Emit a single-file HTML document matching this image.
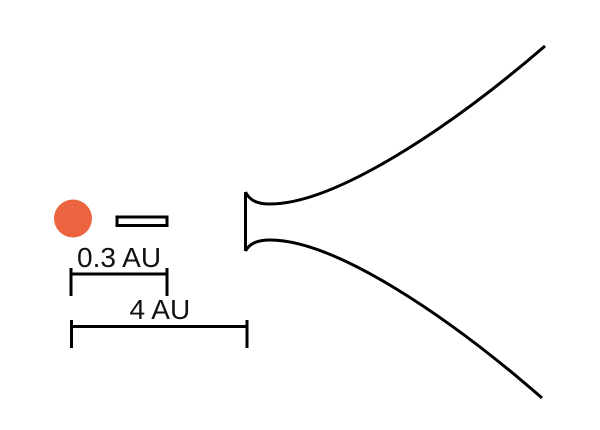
<!DOCTYPE html>
<html>
<head>
<meta charset="utf-8">
<style>
html,body{margin:0;padding:0;background:#fff;width:600px;height:430px;overflow:hidden}
svg{display:block}
text{font-family:"Liberation Sans",sans-serif;font-size:28px;fill:#111}
</style>
</head>
<body>
<svg width="600" height="430" viewBox="0 0 600 430" xmlns="http://www.w3.org/2000/svg">
<rect width="600" height="430" fill="#fff"/>
<circle cx="73" cy="218.5" r="19" fill="#ec6340"/>
<rect x="117" y="217" width="50" height="8.5" fill="#fff" stroke="#000" stroke-width="3"/>
<g fill="none" stroke="#000" stroke-width="3">
<path d="M71 268V296M71 274H167M167 268V296"/>
<path d="M71.5 320V348M71.5 326.5H247M247 320V348"/>
<path d="M245.5 192V251"/>
<path d="M245.5 192C250 201 258 204 270 204C335 204 450 128 545 46"/>
<path d="M245.5 251C250 243 258 240 270 240C335 240 448 316 542 398"/>
</g>
<text x="77" y="267">0.3 AU</text>
<text x="129.5" y="319">4 AU</text>
</svg>
</body>
</html>
